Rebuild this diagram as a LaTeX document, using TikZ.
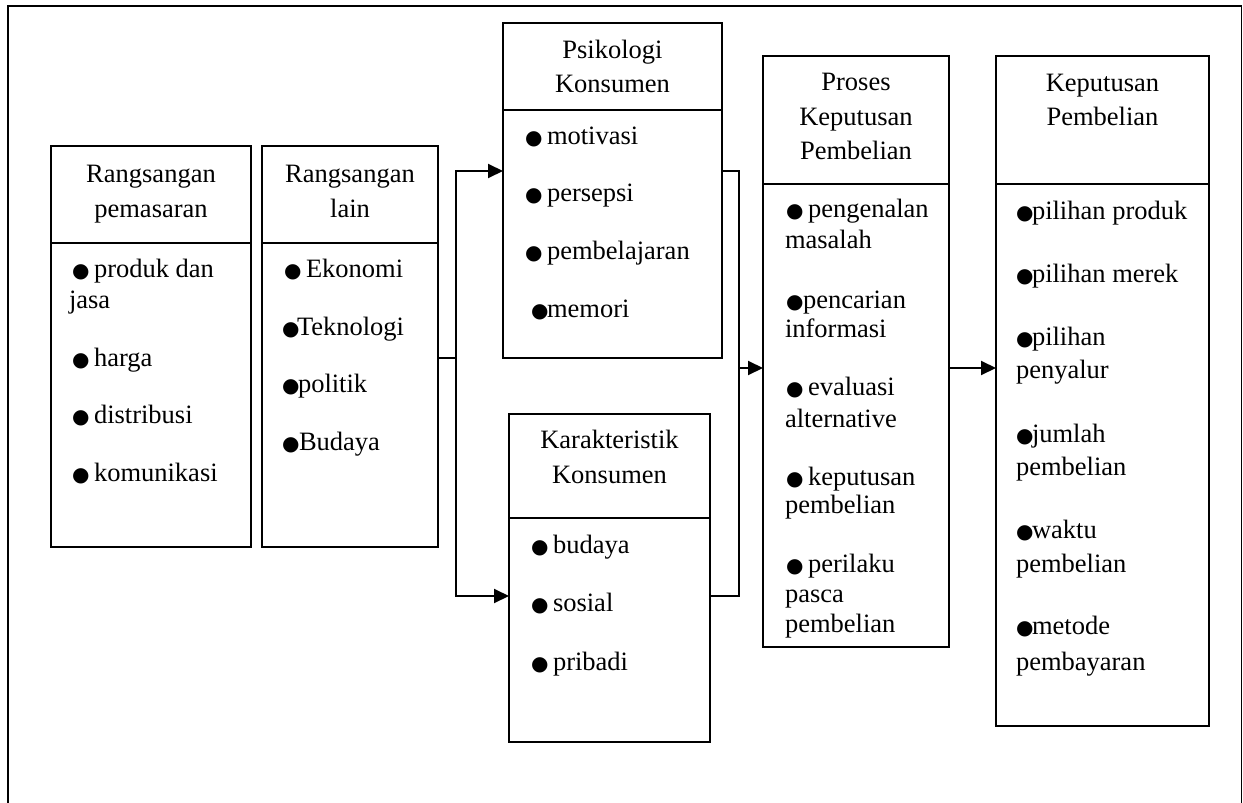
\documentclass[tikz,border=0pt]{standalone}
\usepackage{fontspec}
\setmainfont{Liberation Serif}
\newfontfamily\bltfont{DejaVu Sans}
\usetikzlibrary{arrows.meta}
\newcommand{\bulletglyph}{{\bltfont\fontsize{20}{20}\selectfont ●}}
\newcommand{\bgap}[1]{\makebox[#1pt][l]{\bulletglyph}}
\newcommand{\tline}[4]{\node[lbl,anchor=#2] (#1) at (#3) {#4};}
\begin{document}
\begin{tikzpicture}[x=1pt,y=-1pt,
  box/.style={draw,line width=2pt,rectangle,inner sep=0pt,outer sep=0pt},
  lbl/.style={inner sep=0pt,outer sep=0pt,font=\fontsize{26.5}{34}\selectfont},
  conn/.style={line width=2pt},
  arr/.style={conn,-{Triangle[length=15pt,width=14pt]}}]
\useasboundingbox (0,0) rectangle (1243,803);
\draw[line width=1.6pt] (8,830) -- (8,6) -- (1241.5,6) -- (1241.5,830);

% boxes
\node[box,minimum width=200pt,minimum height=401pt] (b1) at (151,346.5) {};
\node[box,minimum width=176pt,minimum height=401pt] (b2) at (350,346.5) {};
\node[box,minimum width=219pt,minimum height=335pt] (psi) at (612.5,190.5) {};
\node[box,minimum width=201pt,minimum height=328pt] (kar) at (609.5,578) {};
\node[box,minimum width=186pt,minimum height=591pt] (pro) at (856,351.5) {};
\node[box,minimum width=213pt,minimum height=670pt] (kep) at (1102.5,391) {};

% dividers
\draw[conn] (b1.west |- 0,243) -- (b1.east |- 0,243);
\draw[conn] (b2.west |- 0,243) -- (b2.east |- 0,243);
\draw[conn] (psi.west |- 0,110) -- (psi.east |- 0,110);
\draw[conn] (kar.west |- 0,518) -- (kar.east |- 0,518);
\draw[conn] (pro.west |- 0,184) -- (pro.east |- 0,184);
\draw[conn] (kep.west |- 0,184) -- (kep.east |- 0,184);

% connectors
\coordinate (fk) at (456,358);
\coordinate (jn) at (739,368);
\draw[conn] (b2.east |- fk) -- (fk);
\draw[arr] (fk) |- (psi.west |- 0,171);
\draw[arr] (fk) |- (kar.west |- 0,596);
\draw[conn] (psi.east |- 0,171) -| (jn);
\draw[conn] (kar.east |- 0,596) -| (jn);
\draw[arr] (jn) -- (pro.west |- jn);
\draw[arr] (pro.east |- jn) -- (kep.west |- jn);

% headers
\tline{h1a}{base}{151,182}{Rangsangan}
\tline{h1b}{base}{151,217}{pemasaran}
\tline{h2a}{base}{350,182}{Rangsangan}
\tline{h2b}{base}{350,217}{lain}
\tline{h3a}{base}{612.5,58}{Psikologi}
\tline{h3b}{base}{612.5,92}{Konsumen}
\tline{h4a}{base}{609.5,448}{Karakteristik}
\tline{h4b}{base}{609.5,483}{Konsumen}
\tline{h5a}{base}{856,90}{Proses}
\tline{h5b}{base}{856,125}{Keputusan}
\tline{h5c}{base}{856,159}{Pembelian}
\tline{h6a}{base}{1102.5,91}{Keputusan}
\tline{h6b}{base}{1102.5,125}{Pembelian}

% box 1
\tline{b1i1}{base west}{72,277}{\bgap{22}produk dan}
\tline{b1i1b}{base west}{69,308}{jasa}
\tline{b1i2}{base west}{72,366}{\bgap{22}harga}
\tline{b1i3}{base west}{72,423}{\bgap{22}distribusi}
\tline{b1i4}{base west}{72,481}{\bgap{22}komunikasi}
% box 2
\tline{b2i1}{base west}{284,277}{\bgap{22}Ekonomi}
\tline{b2i2}{base west}{282,335}{\bgap{15}Teknologi}
\tline{b2i3}{base west}{282,392}{\bgap{16}politik}
\tline{b2i4}{base west}{282,450}{\bgap{17}Budaya}
% psikologi
\tline{pi1}{base west}{525,144}{\bgap{22}motivasi}
\tline{pi2}{base west}{525,201}{\bgap{22}persepsi}
\tline{pi3}{base west}{525,259}{\bgap{22}pembelajaran}
\tline{pi4}{base west}{531,317}{\bgap{16}memori}
% karakteristik
\tline{ki1}{base west}{531,553}{\bgap{22}budaya}
\tline{ki2}{base west}{531,611}{\bgap{22}sosial}
\tline{ki3}{base west}{531,670}{\bgap{22}pribadi}
% proses
\tline{pr1}{base west}{786,217}{\bgap{22}pengenalan}
\tline{pr1b}{base west}{785,248}{masalah}
\tline{pr2}{base west}{786,308}{\bgap{17}pencarian}
\tline{pr2b}{base west}{785,337}{informasi}
\tline{pr3}{base west}{786,395}{\bgap{22}evaluasi}
\tline{pr3b}{base west}{785,427}{alternative}
\tline{pr4}{base west}{786,485}{\bgap{22}keputusan}
\tline{pr4b}{base west}{785,513}{pembelian}
\tline{pr5}{base west}{786,572}{\bgap{22}perilaku}
\tline{pr5b}{base west}{785,602}{pasca}
\tline{pr5c}{base west}{785,632}{pembelian}
% keputusan
\tline{kp1}{base west}{1016,219}{\bgap{16}pilihan produk}
\tline{kp2}{base west}{1016,282}{\bgap{16}pilihan merek}
\tline{kp3}{base west}{1016,345}{\bgap{16}pilihan}
\tline{kp3b}{base west}{1016,378}{penyalur}
\tline{kp4}{base west}{1016,442}{\bgap{16}jumlah}
\tline{kp4b}{base west}{1016,475}{pembelian}
\tline{kp5}{base west}{1016,538}{\bgap{16}waktu}
\tline{kp5b}{base west}{1016,572}{pembelian}
\tline{kp6}{base west}{1016,634}{\bgap{16}metode}
\tline{kp6b}{base west}{1016,670}{pembayaran}
\end{tikzpicture}
\end{document}
